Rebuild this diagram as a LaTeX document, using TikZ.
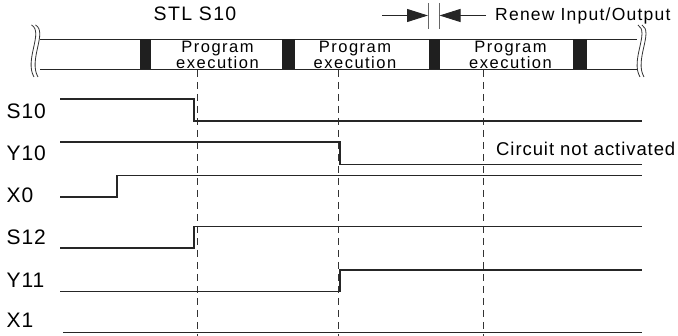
\documentclass[tikz,border=0pt]{standalone}
\usepackage{fontspec}
\setmainfont{Liberation Sans}
\usepackage{tikz}
\usetikzlibrary{arrows.meta}

\begin{document}
\begin{tikzpicture}[
  x=1pt,y=-1pt,
  sig/.style={line width=1.2pt,black!85},
  band/.style={line width=0.9pt,black!85},
  slot/.style={fill=black!88,draw=none},
  guide/.style={line width=0.9pt,black!80,dash pattern=on 7pt off 5pt},
  brk/.style={line width=0.8pt,black!80},
  bar/.style={line width=0.9pt,black!60},
  lbl/.style={anchor=west,inner sep=0pt,
              font=\addfontfeatures{LetterSpace=4}\fontsize{21}{21}\selectfont},
  prog/.style={anchor=base,inner sep=0pt,
               font=\addfontfeatures{LetterSpace=9}\fontsize{16.5}{15}\selectfont},
  note/.style={inner sep=0pt,
               font=\addfontfeatures{LetterSpace=5}\fontsize{18.5}{18.5}\selectfont},
  arr/.style={-{Triangle[length=21pt,width=13pt]},line width=1pt,black!85}
]
\useasboundingbox (0,0) rectangle (678,336);
% scan band with break marks
\draw[band] (40,39.5) -- (637,39.5);
\draw[band] (40,69.5) -- (637,69.5);
\foreach \d in {0,4}{
  \draw[brk] (31.5+\d,25) .. controls (44+\d,32) and (24+\d,60) .. (34+\d,77);
  \draw[brk] (638+\d,25) .. controls (650+\d,32) and (630+\d,60) .. (640+\d,77);
}
\foreach \a/\b in {140/151,282/295,429/440,573/587}{
  \fill[slot] (\a,39.5) rectangle (\b,69.5);
}
\foreach \x/\n in {217.5/a,355/b,510.5/c}{
  \node[prog] (prog\n) at (\x,52.3) {Program};
  \node[prog] (exec\n) at (\x,68.3) {execution};
}
% header
\node[note,font=\addfontfeatures{LetterSpace=7}\fontsize{19.5}{19.5}\selectfont] (stl) at (195,14) {STL S10};
\coordinate (barL) at (428,15.5);
\coordinate (barR) at (439.5,15.5);
\coordinate (inL) at (382,15.5);
\coordinate (inR) at (486,15.5);
\draw[bar] (428,3) -- (428,29);
\draw[bar] (439.5,3) -- (439.5,29);
\draw[arr] (inL) -- (barL);
\draw[arr] (inR) -- (barR);
\node[note,anchor=west,font=\addfontfeatures{LetterSpace=7}\fontsize{17.5}{17.5}\selectfont] (renew) at (495,15.5) {Renew Input/Output};
% step lines
\foreach \x in {197,338,483}{
  \draw[guide] (\x,70) -- (\x,336);
}
\node[lbl] (s10) at (6.5,111) {S10};
\node[lbl] (y10) at (6.5,153) {Y10};
\node[lbl] (x0)  at (6.5,195) {X0};
\node[lbl] (s12) at (6.5,237.5) {S12};
\node[lbl] (y11) at (6.5,280) {Y11};
\node[lbl] (x1)  at (6.5,320) {X1};
% signals
\draw[sig] (60,99) -| (194,121) -- (642,121);
\draw[sig] (60,142) -| (340,164.5) -- (642,164.5);
\draw[sig] (60,197) -| (117,175.5) -- (642,175.5);
\draw[sig] (60,248) -| (194,226.7) -- (642,226.7);
\draw[sig] (60,291.7) -| (340,270) -- (642,270);
\draw[sig] (63,332.7) -- (642,332.7);
\node[note,anchor=west] (off) at (496,148.5) {Circuit not activated};
\end{tikzpicture}
\end{document}
